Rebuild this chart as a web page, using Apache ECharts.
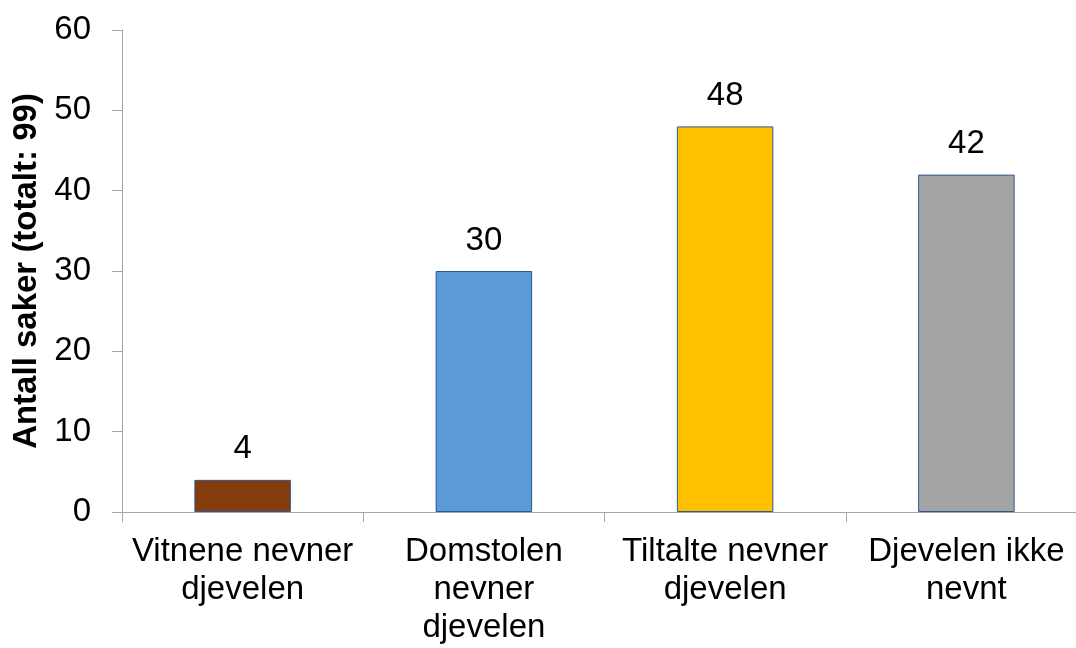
<!DOCTYPE html>
<html>
<head>
<meta charset="utf-8">
<script src="https://cdn.jsdelivr.net/npm/echarts@6/dist/echarts.min.js"></script>
<style>html,body{margin:0;padding:0;background:#fff;overflow:hidden;width:1076px;height:648px;}#c{width:1087px;height:648px;}</style>
</head>
<body>
<div id="c"></div>
<script>
const categories = ["Vitnene nevner\ndjevelen", "Domstolen\nnevner\ndjevelen", "Tiltalte nevner\ndjevelen", "Djevelen ikke\nnevnt"];
const values = [4, 30, 48, 42];
const barColors = ["#843C0C", "#5B9BD5", "#FFC000", "#A5A5A5"];
const yTicks = { min: 0, max: 60, interval: 10 };
const yName = "Antall saker (totalt: 99)";

const chart = echarts.init(document.getElementById('c'), null, { renderer: 'canvas' });
const font = "'Liberation Sans', Arial, sans-serif";
chart.setOption({
  animation: false,
  backgroundColor: '#fff',
  grid: { left: 122, right: 0, top: 30, bottom: 136, containLabel: false },
  xAxis: {
    type: 'category',
    data: categories,
    axisLine: { show: true, lineStyle: { color: '#A6A6A6', width: 1 } },
    axisTick: { show: true, alignWithLabel: false, length: 10, lineStyle: { color: '#A6A6A6' } },
    axisLabel: { color: '#000', fontFamily: font, fontSize: 33, lineHeight: 38, margin: 21, interval: 0 }
  },
  yAxis: {
    type: 'value',
    min: yTicks.min, max: yTicks.max, interval: yTicks.interval,
    name: yName,
    nameLocation: 'middle',
    nameGap: 75,
    nameRotate: 90,
    nameTextStyle: { color: '#000', fontFamily: font, fontSize: 33, fontWeight: 'bold' },
    axisLine: { show: true, lineStyle: { color: '#A6A6A6', width: 1 } },
    axisTick: { show: true, length: 10, lineStyle: { color: '#A6A6A6' } },
    axisLabel: { color: '#000', fontFamily: font, fontSize: 33, margin: 31 },
    splitLine: { show: false }
  },
  series: [{
    type: 'bar',
    data: values.map((v, i) => ({ value: v, itemStyle: { color: barColors[i] } })),
    barWidth: '40%',
    itemStyle: { borderColor: '#2F5597', borderWidth: 1 },
    label: { show: true, position: 'top', distance: 14, color: '#000', fontFamily: font, fontSize: 33 }
  }]
});
</script>
</body>
</html>
